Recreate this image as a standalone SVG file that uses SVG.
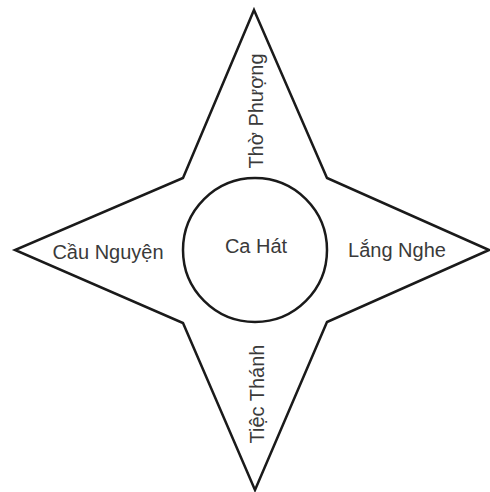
<svg xmlns="http://www.w3.org/2000/svg" width="490" height="492" viewBox="0 0 490 492">
<style>
.shape{fill:#fff;stroke:#1a1a1a;stroke-width:2.5;stroke-linejoin:miter}
.lbl{font-family:"Liberation Sans",Arial,sans-serif;font-size:20px;fill:#3a3a3a;text-anchor:middle}
</style>
<rect width="490" height="492" fill="#fff"/>
<g id="star">
<polygon class="shape" points="254,10 327,178 489,250 327,322 255,490 183,323 15,250 183,178"/>
</g>
<g id="center">
<circle class="shape" cx="255" cy="250" r="72"/>
<text class="lbl" x="256" y="253">Ca Hát</text>
</g>
<g id="top">
<text class="lbl" transform="translate(263,111) rotate(-90)">Thờ Phượng</text>
</g>
<g id="left">
<text class="lbl" x="108" y="259">Cầu Nguyện</text>
</g>
<g id="right">
<text class="lbl" x="397" y="257">Lắng Nghe</text>
</g>
<g id="bottom">
<text class="lbl" transform="translate(264,394) rotate(-90)">Tiệc Thánh</text>
</g>
<g id="connectors"></g>
</svg>
